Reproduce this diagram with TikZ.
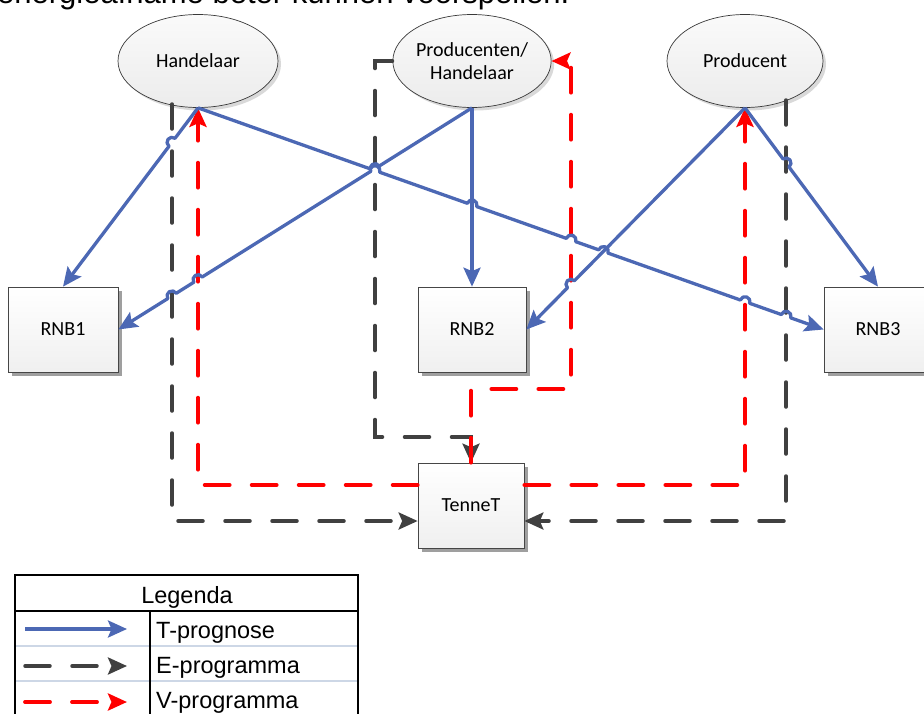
\documentclass[tikz,border=0pt]{standalone}
\usepackage{fontspec}
\setmainfont{Carlito}
\newfontfamily\lsans{Liberation Sans}
\usetikzlibrary{shapes.geometric, arrows.meta, calc, shadows}
\definecolor{tblue}{RGB}{76,104,180}
\definecolor{edark}{RGB}{64,64,64}
\definecolor{vred}{RGB}{255,0,0}
\definecolor{legsep}{RGB}{205,215,230}
\newcommand\ndfont{\fontsize{20}{23.5}\selectfont}
\newcommand\lgfont{\lsans\fontsize{23.5}{28}\selectfont}
\newcommand\tpfont{\lsans\fontsize{31}{36}\selectfont}
\begin{document}
\begin{tikzpicture}[x=1pt,y=1pt,
  >={Stealth[length=19pt,width=17pt,inset=3.5pt]},
  every node/.style={inner sep=0pt},
  ell/.style={ellipse, draw=gray!45!black, line width=0.7pt, top color=gray!4, bottom color=gray!15,
    minimum width=160pt, minimum height=93pt, align=center, font=\ndfont,
    general shadow={fill=gray!30, shadow xshift=3pt, shadow yshift=-3pt}},
  box/.style={rectangle, draw=gray!55!black, line width=0.7pt, top color=white, bottom color=gray!12,
    minimum width=108pt, minimum height=85pt, font=\ndfont,
    general shadow={fill=gray!75, shadow xshift=4pt, shadow yshift=-4pt}},
  tline/.style={draw=tblue, line width=3.3pt, line join=round},
  eline/.style={draw=edark, line width=3.5pt, line cap=round, dash pattern=on 25pt off 22pt},
  vline/.style={draw=vred, line width=3.8pt, line cap=round, dash pattern=on 25pt off 22pt},
  lgrid/.style={draw=black, line width=2pt},
  lsep/.style={draw=legsep, line width=2pt}
]
\useasboundingbox (0,0) rectangle (924,-713);
\clip (0,0) rectangle (924,-713);

% cut-off text line at the top
\node[anchor=base west, font=\tpfont] (toptext) at (-3,-3.5) {energieafname beter kunnen voorspellen.};

% nodes
\node[ell] (HA) at (198,-61) {Handelaar};
\node[ell, minimum width=156pt] (PH) at (472,-61) {Producenten/\\Handelaar};
\node[ell, minimum width=156pt] (PR) at (745,-61) {Producent};
\node[box, minimum width=110pt] (R1) at (63,-329.5) {RNB1};
\node[box] (R2) at (472,-329.5) {RNB2};
\node[box] (R3) at (878,-329.5) {RNB3};
\node[box, minimum width=106pt] (TT) at (471,-505.5) {TenneT};

% E-programma (dark dashed)
\coordinate (e1s) at (172,-104);
\coordinate (e3s) at (786,-100);
\draw[eline, ->, edark] (e1s) |- ($(TT.west)+(0,-15.5)$);
\draw[eline, ->, edark] (PH.west) -| (375,-437) -| (TT.north);
\draw[eline, ->, edark] (e3s) |- ($(TT.east)+(0,-15.5)$);

% V-programma (red dashed)
\draw[vline, ->, vred] ($(TT.west)+(0,20.5)$) -| (HA.south);
\draw[vline, ->, vred] (TT.north) |- (571,-389) |- (PH.east);
\draw[vline, ->, vred] ($(TT.east)+(0,20.5)$) -| (PR.south);

% hop points
\coordinate (ha1) at (intersection of R1.north--HA.south and 172,0--172,-700);
\coordinate (hb1) at (intersection of HA.south--R3.west and 375,0--375,-700);
\coordinate (hb2) at (intersection of HA.south--R3.west and 472,0--472,-700);
\coordinate (hb3) at (intersection of HA.south--R3.west and 571,0--571,-700);
\coordinate (hb4) at (intersection of HA.south--R3.west and R2.east--PR.south);
\coordinate (hb5) at (intersection of HA.south--R3.west and 745,0--745,-700);
\coordinate (hb6) at (intersection of HA.south--R3.west and 786,0--786,-700);
\coordinate (hc1) at (intersection of R1.east--PH.south and 172,0--172,-700);
\coordinate (hc2) at (intersection of R1.east--PH.south and 198,0--198,-700);
\coordinate (hc3) at (intersection of R1.east--PH.south and 375,0--375,-700);
\coordinate (he1) at (intersection of R2.east--PR.south and 571,0--571,-700);
\coordinate (hf1) at (intersection of PR.south--R3.north and 786,0--786,-700);

% T-prognose (blue, with line hops)
\draw[tline, <-, tblue] let \p1=($(HA.south)-(R1.north)$), \n1={atan2(\y1,\x1)} in
  (R1.north) -- ($(ha1)!5pt!(R1.north)$) arc[start angle=\n1+180, end angle=\n1, radius=5pt] -- (HA.south);
\draw[tline, ->, tblue] let \p1=($(R3.west)-(HA.south)$), \n1={atan2(\y1,\x1)} in
  (HA.south)
  -- ($(hb1)!5pt!(HA.south)$) arc[start angle=\n1+180, end angle=\n1, radius=5pt]
  -- ($(hb2)!5pt!(HA.south)$) arc[start angle=\n1+180, end angle=\n1, radius=5pt]
  -- ($(hb3)!5pt!(HA.south)$) arc[start angle=\n1+180, end angle=\n1, radius=5pt]
  -- ($(hb4)!5pt!(HA.south)$) arc[start angle=\n1+180, end angle=\n1, radius=5pt]
  -- ($(hb5)!5pt!(HA.south)$) arc[start angle=\n1+180, end angle=\n1, radius=5pt]
  -- ($(hb6)!5pt!(HA.south)$) arc[start angle=\n1+180, end angle=\n1, radius=5pt]
  -- (R3.west);
\draw[tline, <-, tblue] let \p1=($(PH.south)-(R1.east)$), \n1={atan2(\y1,\x1)} in
  (R1.east)
  -- ($(hc1)!5pt!(R1.east)$) arc[start angle=\n1+180, end angle=\n1, radius=5pt]
  -- ($(hc2)!5pt!(R1.east)$) arc[start angle=\n1+180, end angle=\n1, radius=5pt]
  -- ($(hc3)!5pt!(R1.east)$) arc[start angle=\n1+180, end angle=\n1, radius=5pt]
  -- (PH.south);
\draw[tline, ->, tblue] (PH.south) -- (R2.north);
\draw[tline, <-, tblue] let \p1=($(PR.south)-(R2.east)$), \n1={atan2(\y1,\x1)} in
  (R2.east) -- ($(he1)!5pt!(R2.east)$) arc[start angle=\n1+180, end angle=\n1, radius=5pt] -- (PR.south);
\draw[tline, ->, tblue] let \p1=($(R3.north)-(PR.south)$), \n1={atan2(\y1,\x1)} in
  (PR.south) -- ($(hf1)!5pt!(PR.south)$) arc[start angle=\n1+180, end angle=\n1, radius=5pt] -- (R3.north);

% legend
\draw[lsep] (15,-646) -- (358,-646);
\draw[lsep] (15,-681) -- (358,-681);
\draw[lgrid] (15,-575) rectangle (358,-740);
\draw[lgrid] (15,-611) -- (358,-611);
\draw[lgrid] (150,-611) -- (150,-740);
\node[anchor=base, font=\lgfont] (lgh) at (187,-603) {Legenda};
\node[anchor=base west, font=\lgfont] (lg1) at (156,-638) {T-prognose};
\node[anchor=base west, font=\lgfont] (lg2) at (156,-673) {E-programma};
\node[anchor=base west, font=\lgfont] (lg3) at (156,-708) {V-programma};
\coordinate (ls1) at (25,-629); \coordinate (le1) at (127,-629);
\coordinate (ls2) at (25,-666); \coordinate (le2) at (127,-666);
\coordinate (ls3) at (25,-702); \coordinate (le3) at (127,-702);
\draw[tline, ->, tblue] (ls1) -- (le1);
\draw[eline, ->, edark] (ls2) -- (le2);
\draw[vline, ->, vred] (ls3) -- (le3);
\end{tikzpicture}
\end{document}
